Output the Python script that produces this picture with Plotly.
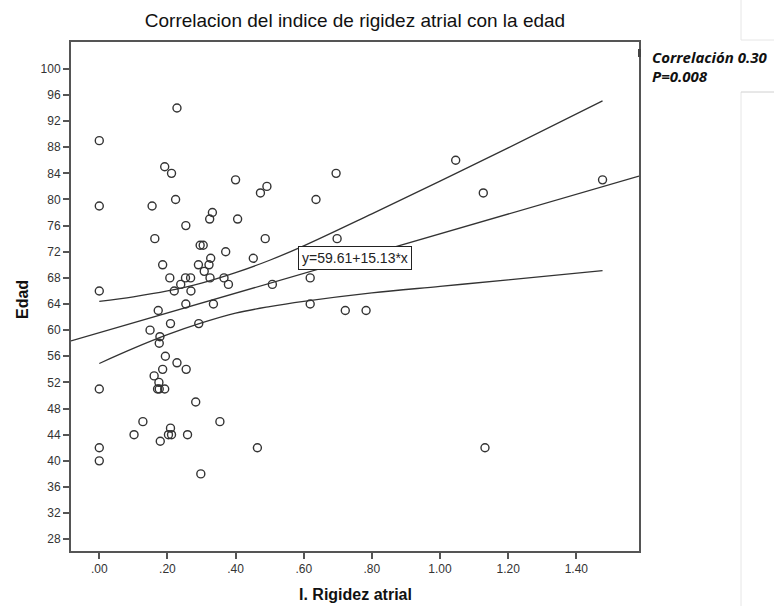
import plotly.graph_objects as go

# ---- data ----
rigidez = [0, 0, 0, 0, 0, 0,
           0.228,
           0.192, 0.212, 0.400, 0.492, 0.473,
           0.155, 0.224, 0.332, 0.324, 0.406, 0.254,
           0.163, 0.487, 0.296, 0.305, 0.371, 0.452, 0.327,
           0.186, 0.291, 0.322, 0.308,
           0.207, 0.253, 0.268, 0.325, 0.366,
           0.239, 0.379, 0.508,
           0.220, 0.269,
           0.254, 0.335, 0.173, 0.209, 0.292, 0.149, 0.178, 0.176,
           0.194, 0.228, 0.186, 0.255, 0.161, 0.175,
           0.171, 0.176, 0.192,
           0.283, 0.128, 0.354, 0.209, 0.102, 0.203, 0.212, 0.259, 0.179, 0.464, 0.298,
           1.046, 0.695, 0.636, 1.127, 0.698, 0.619, 0.619, 0.722, 0.783, 1.132, 1.477]
edad = [89, 79, 66, 51, 42, 40,
        94,
        85, 84, 83, 82, 81,
        79, 80, 78, 77, 77, 76,
        74, 74, 73, 73, 72, 71, 71,
        70, 70, 70, 69,
        68, 68, 68, 68, 68,
        67, 67, 67,
        66, 66,
        64, 64, 63, 61, 61, 60, 59, 58,
        56, 55, 54, 54, 53, 52,
        51, 51, 51,
        49, 46, 46, 45, 44, 44, 44, 44, 43, 42, 38,
        86, 84, 80, 81, 74, 68, 64, 63, 63, 42, 83]

fit_x = [-0.083, 1.584]
fit_y = [58.35, 83.58]

ci_x = [0.0, 0.1, 0.2, 0.3, 0.4, 0.5, 0.6, 0.8, 1.0, 1.2, 1.477]
ci_up_y = [64.4, 65.1, 66.0, 67.2, 68.8, 70.7, 72.9, 77.8, 82.8, 87.9, 95.1]
ci_lo_y = [54.9, 57.2, 59.3, 61.1, 62.6, 63.6, 64.4, 65.7, 66.7, 67.7, 69.1]

x_ticks = [0, 0.2, 0.4, 0.6, 0.8, 1.0, 1.2, 1.4]
x_ticklabels = [".00", ".20", ".40", ".60", ".80", "1.00", "1.20", "1.40"]
y_ticks = list(range(28, 101, 4))

equation_label = "y=59.61+15.13*x"
title_text = "Correlacion del indice de rigidez atrial con la edad"
stats_lines = ["Correlación 0.30", "P=0.008"]

# ---- figure ----
W, H = 774, 606
L, R, T, B = 71, 639, 42, 551
line_col = "#333333"

fig = go.Figure()
fig.add_trace(go.Scatter(x=ci_x, y=ci_up_y, mode="lines", line=dict(color=line_col, width=1.3, shape="spline"),
                         hoverinfo="skip"))
fig.add_trace(go.Scatter(x=ci_x, y=ci_lo_y, mode="lines", line=dict(color=line_col, width=1.3, shape="spline"),
                         hoverinfo="skip"))
fig.add_trace(go.Scatter(x=fit_x, y=fit_y, mode="lines", line=dict(color=line_col, width=1.3), hoverinfo="skip"))
fig.add_trace(go.Scatter(x=rigidez, y=edad, mode="markers",
                         marker=dict(symbol="circle-open", size=8, color=line_col, line=dict(width=1.4))))

font_main = "Liberation Sans, Arial, sans-serif"

fig.update_layout(
    width=W, height=H,
    margin=dict(l=L, r=W - R, t=T, b=H - B, pad=0),
    paper_bgcolor="white", plot_bgcolor="white",
    showlegend=False,
    font=dict(family=font_main, color="#333333", size=12),
    title=dict(text=title_text, x=(L + R) / 2 / W, xanchor="center", xref="container",
               y=1 - 20 / H, yanchor="middle", yref="container",
               font=dict(size=19, color="#111111", family=font_main)),
)
fig.update_xaxes(range=[-0.083, 1.584], tickvals=x_ticks, ticktext=x_ticklabels,
                 showgrid=False, zeroline=False, showline=True, mirror=True,
                 linecolor="#555555", linewidth=2, ticks="outside", ticklen=6, tickwidth=2,
                 tickcolor="#555555", tickfont=dict(size=12, color="#333333"))
fig.update_yaxes(range=[26.2, 104.1], tickvals=y_ticks,
                 showgrid=False, zeroline=False, showline=True, mirror=True,
                 linecolor="#555555", linewidth=2, ticks="outside", ticklen=6, tickwidth=2,
                 tickcolor="#555555", tickfont=dict(size=12, color="#333333"))

pw, ph = R - L, B - T
def px(xp):
    return (xp - L) / pw
def py(yp):
    return (B - yp) / ph

annotations = [
    dict(text=equation_label, x=0.750, y=71.1, xref="x", yref="y", showarrow=False,
         font=dict(size=14, color="#222222", family=font_main), bgcolor="white",
         bordercolor="#222222", borderwidth=1, borderpad=3),
    dict(text="<b>I. Rigidez atrial</b>", x=0.5, y=py(594), xref="paper", yref="paper",
         showarrow=False, font=dict(size=16, color="#111111", family=font_main),
         xanchor="center", yanchor="middle"),
    dict(text="<b>Edad</b>", x=px(22), y=py(300), xref="paper", yref="paper", textangle=-90,
         showarrow=False, font=dict(size=16, color="#111111", family=font_main),
         xanchor="center", yanchor="middle"),
    dict(text="<b><i>" + stats_lines[0] + "</i></b>", x=px(650), y=py(57), xref="paper", yref="paper",
         showarrow=False, xanchor="left", yanchor="middle",
         font=dict(size=15, color="#111111", family="Open Sans, sans-serif")),
    dict(text="<b><i>" + stats_lines[1] + "</i></b>", x=px(650), y=py(76), xref="paper", yref="paper",
         showarrow=False, xanchor="left", yanchor="middle",
         font=dict(size=15, color="#111111", family="Open Sans, sans-serif")),
]
fig.update_layout(annotations=annotations)

shapes = [
    dict(type="rect", xref="paper", yref="paper", x0=px(638), x1=px(641), y0=py(57), y1=py(49),
         fillcolor="#444444", line=dict(width=0)),
    dict(type="line", xref="paper", yref="paper", x0=px(741), x1=px(741), y0=py(92), y1=py(606),
         line=dict(color="#e6e6e6", width=1)),
    dict(type="line", xref="paper", yref="paper", x0=px(741), x1=px(774), y0=py(92), y1=py(92),
         line=dict(color="#d0d0d0", width=1)),
    dict(type="line", xref="paper", yref="paper", x0=px(741), x1=px(741), y0=py(0), y1=py(40),
         line=dict(color="#e6e6e6", width=1)),
    dict(type="line", xref="paper", yref="paper", x0=px(741), x1=px(774), y0=py(40), y1=py(40),
         line=dict(color="#e6e6e6", width=1)),
]
fig.update_layout(shapes=shapes)

fig.write_html("out.html", config={"displayModeBar": False},
               post_script="document.body.style.margin='0';document.body.style.overflow='hidden';")
